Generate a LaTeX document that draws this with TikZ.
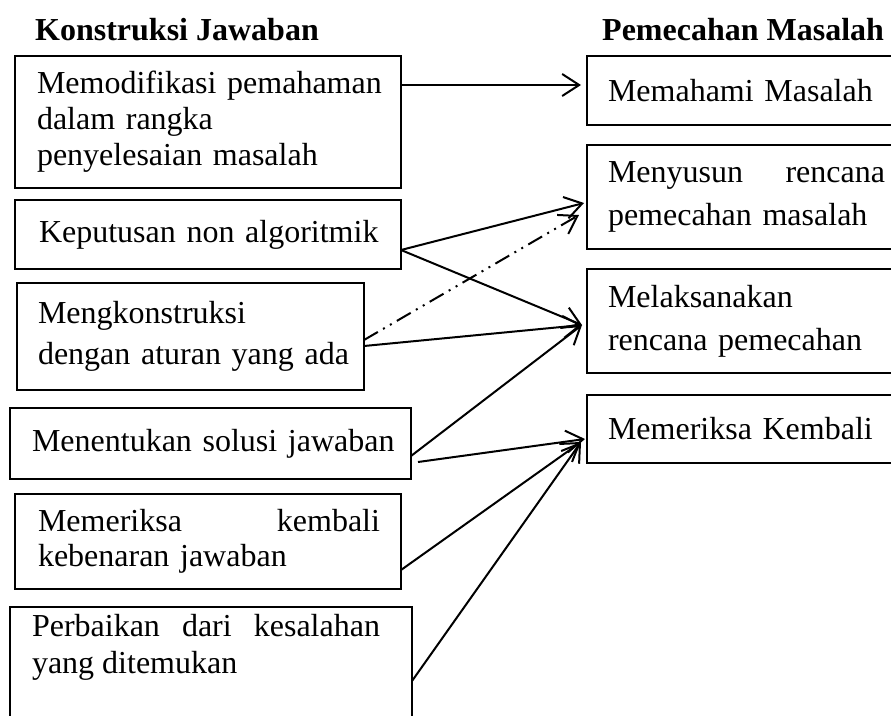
\documentclass[tikz,border=0pt]{standalone}
\usepackage{fontspec}
\setmainfont{Liberation Serif}
\usetikzlibrary{arrows.meta}
\begin{document}
\begin{tikzpicture}[x=1pt,y=-1pt,
  box/.style={draw, line width=2pt, anchor=north west, outer sep=0pt, align=left, inner ysep=0pt, font=\fontsize{32}{36}\selectfont},
  conn/.style={line width=2pt, -{Straight Barb[length=17pt,width=22pt]}},
  ddd/.style={conn, dash pattern=on 16pt off 6pt on 2pt off 6pt on 2pt off 6pt},
  hdr/.style={anchor=base west, inner sep=0pt, font=\fontsize{32}{36}\selectfont\bfseries}]
\useasboundingbox (0,0) rectangle (891,715);
\clip (0,0) rectangle (891,715);

% headers
\node[hdr] (h1) at (35,40) {Konstruksi Jawaban};
\node[hdr] (h2) at (602,40) {Pemecahan Masalah};

% left boxes
\node[box, minimum width=386pt, minimum height=132pt, inner xsep=22pt, text width=342pt] (b1) at (15,56)
  {\mbox{Memodifikasi pemahaman}\\\mbox{dalam rangka}\\\mbox{penyelesaian masalah}};
\node[box, minimum width=386pt, minimum height=69pt, inner xsep=24pt, text width=338pt] (b2) at (15,200)
  {\mbox{Keputusan non algoritmik}};
\node[box, minimum width=347pt, minimum height=107pt, inner xsep=21pt, text width=305pt, font=\fontsize{32}{41}\selectfont] (b3) at (17,283)
  {\mbox{Mengkonstruksi}\\\mbox{dengan aturan yang ada}};
\node[box, minimum width=401pt, minimum height=71pt, inner xsep=22pt, text width=357pt] (b4) at (10,408)
  {\mbox{Menentukan solusi jawaban}};
\node[box, minimum width=386pt, minimum height=95pt, inner xsep=23pt, text width=340pt, font=\fontsize{32}{35}\selectfont] (b5) at (15,494)
  {\makebox[342pt][l]{Memeriksa\hfill kembali}\\\mbox{kebenaran jawaban}};
\node[draw, line width=2pt, anchor=north west, outer sep=0pt, inner xsep=22pt, inner ysep=0pt, font=\fontsize{32}{37}\selectfont] (b6) at (10,607)
  {\parbox[c][140pt][t]{358pt}{\raggedright\vspace*{7pt}\makebox[348pt][l]{Perbaikan\hfill dari\hfill kesalahan}\\yang ditemukan}};

% right boxes
\node[box, minimum width=330pt, minimum height=69pt, inner xsep=21pt, text width=288pt] (r1) at (587,56)
  {\mbox{Memahami Masalah}};
\node[box, minimum width=330pt, minimum height=104pt, inner xsep=21pt, text width=288pt, font=\fontsize{32}{43}\selectfont] (r2) at (587,145)
  {\makebox[277pt][l]{Menyusun\hfill rencana}\\\mbox{pemecahan masalah}};
\node[box, minimum width=330pt, minimum height=104pt, inner xsep=21pt, text width=288pt, font=\fontsize{32}{43}\selectfont] (r3) at (587,269)
  {\mbox{Melaksanakan}\\\mbox{rencana pemecahan}};
\node[box, minimum width=330pt, minimum height=68pt, inner xsep=21pt, text width=288pt] (r4) at (587,395)
  {\mbox{Memeriksa Kembali}};

% connectors
\draw[conn] ([yshift=-29pt]b1.north east) -- ([xshift=-6pt,yshift=-29pt]r1.north west);
\draw[conn] ([yshift=-50pt]b2.north east) -- ([xshift=-3pt,yshift=-58pt]r2.north west);
\draw[conn] ([yshift=-50pt]b2.north east) -- ([xshift=-5pt,yshift=-56pt]r3.north west);
\draw[ddd] ([yshift=-57pt]b3.north east) -- ([xshift=-8pt,yshift=-70pt]r2.north west);
\draw[conn] ([yshift=-63pt]b3.north east) -- ([xshift=-5pt,yshift=-56pt]r3.north west);
\draw[conn] ([yshift=-48pt]b4.north east) -- ([xshift=-5pt,yshift=-56pt]r3.north west);
\draw[conn] ([xshift=7pt,yshift=-54pt]b4.north east) -- ([xshift=-2pt,yshift=-44pt]r4.north west);
\draw[conn] ([yshift=-76pt]b5.north east) -- ([xshift=-6pt,yshift=-47pt]r4.north west);
\draw[conn] ([yshift=-74pt]b6.north east) -- ([xshift=-6pt,yshift=-47pt]r4.north west);
\end{tikzpicture}
\end{document}
